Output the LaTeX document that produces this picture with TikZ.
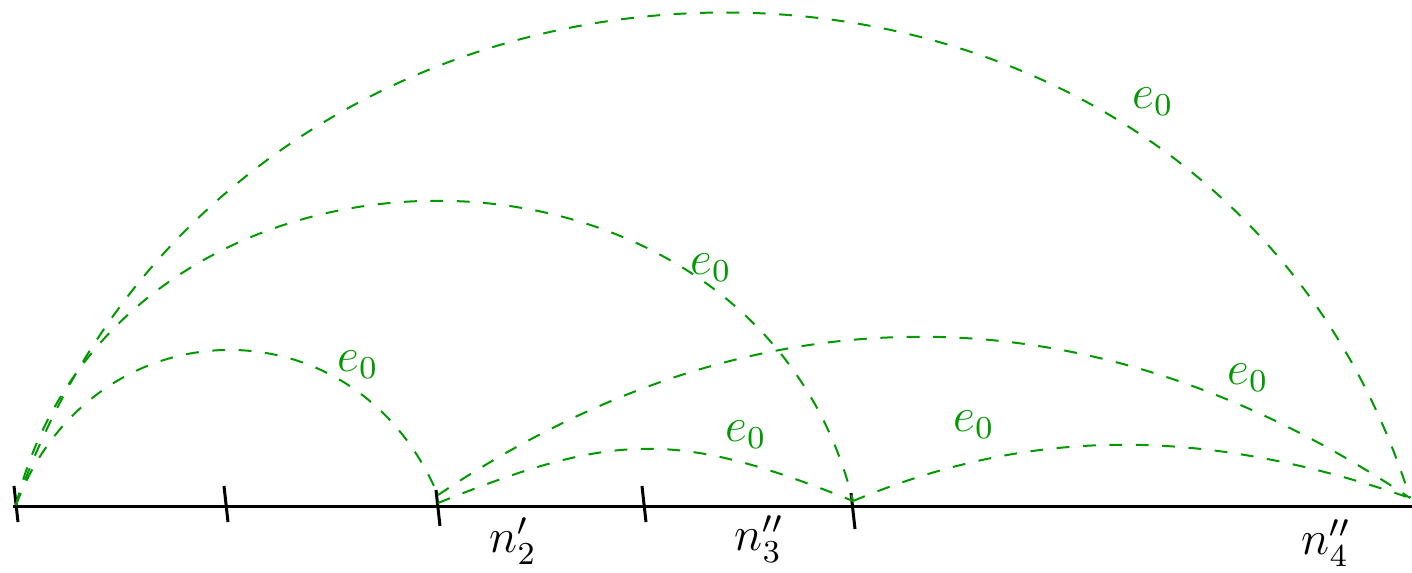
\documentclass[tikz,border=0pt]{standalone}
\definecolor{arcgreen}{RGB}{0,153,0}
\tikzset{
  arcline/.style={arcgreen, line width=0.5pt, dash pattern=on 3.2pt off 3.4pt},
  axisline/.style={line width=0.75pt},
  tickline/.style={line width=0.75pt},
  elabel/.style={text=arcgreen, inner sep=0pt, font=\large},
  nlabel/.style={inner sep=0pt, font=\large}
}
\begin{document}
\begin{tikzpicture}[x=0.25pt,y=-0.25pt]
\useasboundingbox (0,0) rectangle (1412,572);
% axis
\coordinate (axL) at (13,506);
\coordinate (axR) at (1412,506);
\draw[axisline] (axL) -- (axR);
% tick centres
\coordinate (t0) at (16,504);
\coordinate (t1) at (226,504);
\coordinate (t2) at (438,508);
\coordinate (t3) at (644,504);
\coordinate (t4) at (853,511);
\foreach \t in {t0,t1,t2,t3,t4}
  \draw[tickline] (\t) ++(-2,-18) -- ++(4,36);
% arc end points
\coordinate (p0) at (16,505);
\coordinate (p2) at (438,495);
\coordinate (p2b) at (438,503);
\coordinate (p4) at (853,501);
\coordinate (p5) at (1410,498);
% arcs
\draw[arcline] (p0) .. controls +(75,-200) and +(-85,-200) .. (p2);
\draw[arcline] (p0) .. controls +(100,-403) and +(-100,-403) .. (p4);
\draw[arcline] (p0) .. controls +(225,-652) and +(-205,-652) .. (p5);
\draw[arcline] (p2b) .. controls +(176,-71) and +(-176,-71) .. (p4);
\draw[arcline] (p2) .. controls +(318,-213) and +(-318,-213) .. (p5);
\draw[arcline] (p4) .. controls +(175,-73) and +(-210,-73) .. (p5);
% arc labels
\node[elabel] (l1) at (358,365) {$e_0$};
\node[elabel] (l2) at (711,268) {$e_0$};
\node[elabel] (l3) at (1153,102) {$e_0$};
\node[elabel] (l4) at (746,435) {$e_0$};
\node[elabel] (l5) at (1248,378) {$e_0$};
\node[elabel] (l6) at (974,425) {$e_0$};
% axis labels
\node[nlabel] (n2) at (513,541) {$n'_2$};
\node[nlabel] (n3) at (759,539) {$n''_3$};
\node[nlabel] (n4) at (1326,543) {$n''_4$};
\end{tikzpicture}
\end{document}
